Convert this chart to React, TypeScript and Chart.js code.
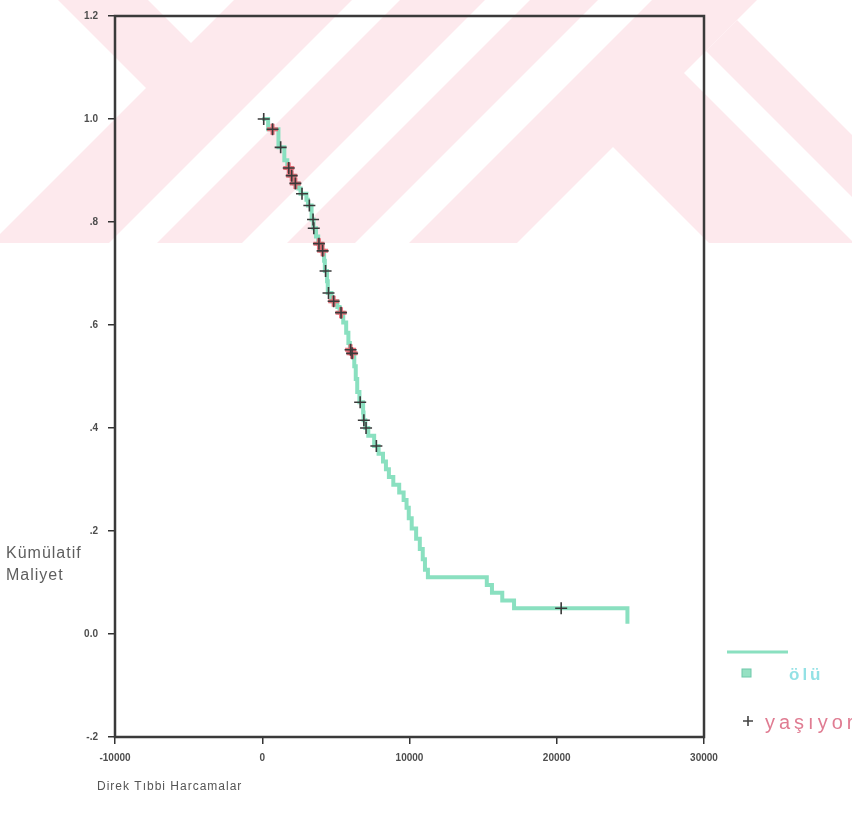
import React, { useEffect, useRef } from 'react';
import { Chart, registerables } from 'chart.js';

Chart.register(...registerables);

// ---- data (Kaplan-Meier style cumulative curve) ----
const survTimes = [
  0, 400, 1100, 1500, 1700, 1900, 2150, 2450, 2600, 3000, 3100, 3350, 3480, 3650, 3800,
  4000, 4200, 4250, 4400, 4450, 4700, 5100, 5250, 5500, 5700, 5850, 5950, 6050, 6250,
  6350, 6450, 6600, 6850, 6880, 7000, 7200, 7600, 7900, 8200, 8400, 8600, 8900, 9300,
  9600, 9800, 9950, 10150, 10450, 10700, 10900, 11050, 11250, 15250, 15600, 16300,
  17100, 24800,
];
const survValues = [
  1.0, 0.98, 0.945, 0.92, 0.905, 0.89, 0.875, 0.865, 0.855, 0.843, 0.832, 0.805, 0.788,
  0.772, 0.758, 0.744, 0.725, 0.705, 0.685, 0.662, 0.646, 0.635, 0.624, 0.605, 0.585,
  0.565, 0.552, 0.545, 0.52, 0.495, 0.47, 0.45, 0.43, 0.415, 0.4, 0.385, 0.365, 0.35,
  0.335, 0.32, 0.305, 0.29, 0.275, 0.26, 0.245, 0.225, 0.205, 0.185, 0.165, 0.145, 0.125,
  0.11, 0.095, 0.08, 0.065, 0.05, 0.02,
];
const censTimes = [
  100, 700, 1250, 1800, 2000, 2250, 2700, 3200, 3450, 3500, 3850, 4100, 4300, 4500, 4850,
  5350, 6000, 6100, 6650, 6900, 7050, 7750, 20300,
];
const censValues = [
  1.0, 0.98, 0.945, 0.905, 0.89, 0.875, 0.855, 0.832, 0.805, 0.788, 0.758, 0.744, 0.705,
  0.662, 0.646, 0.624, 0.552, 0.545, 0.45, 0.415, 0.4, 0.365, 0.05,
];
const redCensIdx = [1, 3, 4, 5, 10, 11, 14, 15, 16, 17];
const xTickValues = [-10000, 0, 10000, 20000, 30000];
const yTickValues = [-0.2, 0, 0.2, 0.4, 0.6, 0.8, 1.0, 1.2];
const seriesLabels = ['ölü', 'yaşıyor'];
const xTitle = 'Direk Tıbbi Harcamalar';
const yTitleLines = ['Kümülatif', 'Maliyet'];

// ---- layout ----
const W = 852;
const H = 827;
const AREA = { left: 115, top: 11, right: 704, bottom: 737 };
const MINT = 'rgb(138, 224, 192)';

const fmtY = (v: number) => {
  const s = (Math.round(v * 10) / 10).toFixed(1);
  if (s === '0.0' || s === '-0.0') return '0.0';
  return s.replace(/^(-?)0\./, '$1.');
};

const watermark = {
  id: 'watermark',
  beforeDraw(chart: any) {
    const ctx = chart.ctx as CanvasRenderingContext2D;
    ctx.save();
    ctx.fillStyle = '#ffffff';
    ctx.fillRect(0, 0, W, H);
    ctx.beginPath();
    ctx.rect(0, 0, W, 243);
    ctx.clip();
    const pink = '#fde9ed';
    const white = '#ffffff';
    const poly = (pts: number[][], c: string) => {
      ctx.fillStyle = c;
      ctx.beginPath();
      pts.forEach(([x, y], i) => (i ? ctx.lineTo(x, y) : ctx.moveTo(x, y)));
      ctx.closePath();
      ctx.fill();
    };
    const sumBand = (a: number, b: number, c: string) =>
      poly([[a, 0], [b, 0], [b - 500, 500], [a - 500, 500]], c);
    const diffBand = (a: number, b: number, c: string) =>
      poly([[a, 0], [b, 0], [b + 500, 500], [a + 500, 500]], c);
    ctx.fillStyle = pink;
    ctx.fillRect(0, 0, W, 243);
    sumBand(-1000, 234, white);
    diffBand(58, 148, pink);
    sumBand(352, 400, white);
    sumBand(485, 530, white);
    sumBand(598, 652, white);
    // inverted V (white) below apex
    poly([[613, 147], [1013, 547], [213, 547]], white);
    // right side chevrons
    poly([[684, 73], [757, 0], [1400, 0], [1400, 789]], white);
    poly([[706, 51], [737, 20], [1137, 420], [1106, 451]], pink);
    ctx.restore();
  },
};

const decorations = {
  id: 'decorations',
  afterDraw(chart: any) {
    const ctx = chart.ctx as CanvasRenderingContext2D;
    const a = chart.chartArea;
    ctx.save();
    // frame
    ctx.strokeStyle = '#3a3a3a';
    ctx.lineWidth = 2.5;
    ctx.strokeRect(a.left, a.top, a.right - a.left, a.bottom - a.top);

    // y title (two lines, horizontal)
    (ctx as any).letterSpacing = '1px';
    ctx.fillStyle = '#5e5e5e';
    ctx.font = '16px "Liberation Sans", Arial, sans-serif';
    ctx.textAlign = 'left';
    ctx.textBaseline = 'alphabetic';
    ctx.fillText(yTitleLines[0], 6, 558);
    ctx.fillText(yTitleLines[1], 6, 580);

    // x title
    ctx.font = '12px "Liberation Sans", Arial, sans-serif';
    ctx.fillStyle = '#555';
    ctx.fillText(xTitle, 97, 790);

    // legend: ölü
    ctx.strokeStyle = MINT;
    ctx.lineWidth = 3;
    ctx.beginPath();
    ctx.moveTo(727, 652);
    ctx.lineTo(788, 652);
    ctx.stroke();
    ctx.fillStyle = 'rgb(150, 225, 195)';
    ctx.fillRect(742, 669, 9, 8);
    ctx.strokeStyle = 'rgb(110, 200, 170)';
    ctx.lineWidth = 1;
    ctx.strokeRect(742, 669, 9, 8);
    (ctx as any).letterSpacing = '3px';
    ctx.font = 'bold 17px "Liberation Sans", Arial, sans-serif';
    ctx.fillStyle = 'rgba(120, 218, 222, 0.8)';
    ctx.textBaseline = 'middle';
    ctx.fillText(seriesLabels[0], 789, 675);

    // legend: yaşıyor
    ctx.strokeStyle = '#444';
    ctx.lineWidth = 1.6;
    ctx.beginPath();
    ctx.moveTo(743, 721);
    ctx.lineTo(753, 721);
    ctx.moveTo(748, 716);
    ctx.lineTo(748, 726);
    ctx.stroke();
    (ctx as any).letterSpacing = '4px';
    ctx.font = '20px "Liberation Sans", Arial, sans-serif';
    ctx.fillStyle = '#e07c92';
    ctx.textBaseline = 'alphabetic';
    ctx.fillText(seriesLabels[1], 765, 729);
    ctx.restore();
  },
};

export default function App() {
  const ref = useRef<HTMLCanvasElement | null>(null);

  useEffect(() => {
    document.body.style.margin = '0';
    const canvas = ref.current;
    if (!canvas) return;
    const tickFont = { family: '"Liberation Sans", Arial, sans-serif', size: 10, weight: 'bold' as const };
    const chart = new Chart(canvas, {
      type: 'line',
      data: {
        datasets: [
          {
            label: seriesLabels[0],
            data: survTimes.map((t, i) => ({ x: t, y: survValues[i] })),
            stepped: 'before',
            borderColor: MINT,
            borderWidth: 4,
            pointRadius: 0,
            fill: false,
            order: 3,
          },
          {
            label: seriesLabels[1] + '-tint',
            data: redCensIdx.map((i) => ({ x: censTimes[i], y: censValues[i] })),
            showLine: false,
            pointStyle: 'cross',
            pointRadius: 5.5,
            pointBorderWidth: 4,
            pointBorderColor: 'rgba(232, 92, 105, 0.85)',
            pointBackgroundColor: 'rgba(232, 92, 105, 0.85)',
            order: 2,
          },
          {
            label: seriesLabels[1],
            data: censTimes.map((t, i) => ({ x: t, y: censValues[i] })),
            showLine: false,
            pointStyle: 'cross',
            pointRadius: 6,
            pointBorderWidth: 1.6,
            pointBorderColor: '#3a3a3a',
            pointBackgroundColor: '#3a3a3a',
            order: 1,
          },
        ],
      },
      options: {
        animation: false,
        responsive: false,
        devicePixelRatio: 1,
        layout: { padding: { left: 0, top: AREA.top, right: W - AREA.right, bottom: 0 } },
        plugins: { legend: { display: false }, tooltip: { enabled: false }, title: { display: false } },
        scales: {
          x: {
            type: 'linear',
            min: -10000,
            max: 30000,
            afterBuildTicks: (s: any) => {
              s.ticks = xTickValues.map((v) => ({ value: v }));
            },
            afterFit: (s: any) => {
              s.height = H - AREA.bottom;
            },
            ticks: {
              callback: (v: any) => String(v),
              font: tickFont,
              color: '#4d4d4d',
              padding: 8,
              maxRotation: 0,
              autoSkip: false,
            },
            grid: { drawOnChartArea: false, drawTicks: true, tickLength: 7, color: '#333', lineWidth: 1.5 },
            border: { display: false },
          },
          y: {
            type: 'linear',
            min: -0.2,
            max: 1.2,
            afterBuildTicks: (s: any) => {
              s.ticks = yTickValues.map((v) => ({ value: v }));
            },
            afterFit: (s: any) => {
              s.width = AREA.left;
            },
            ticks: {
              callback: (v: any) => fmtY(Number(v)),
              font: tickFont,
              color: '#4d4d4d',
              padding: 10,
              autoSkip: false,
            },
            grid: { drawOnChartArea: false, drawTicks: true, tickLength: 7, color: '#333', lineWidth: 1.5 },
            border: { display: false },
          },
        },
      },
      plugins: [watermark, decorations],
    } as any);
    return () => chart.destroy();
  }, []);

  return (
    <div style={{ position: 'absolute', left: 0, top: 0, width: W, height: H, background: '#fff' }}>
      <canvas ref={ref} width={W} height={H} style={{ display: 'block', width: W, height: H }} />
    </div>
  );
}
